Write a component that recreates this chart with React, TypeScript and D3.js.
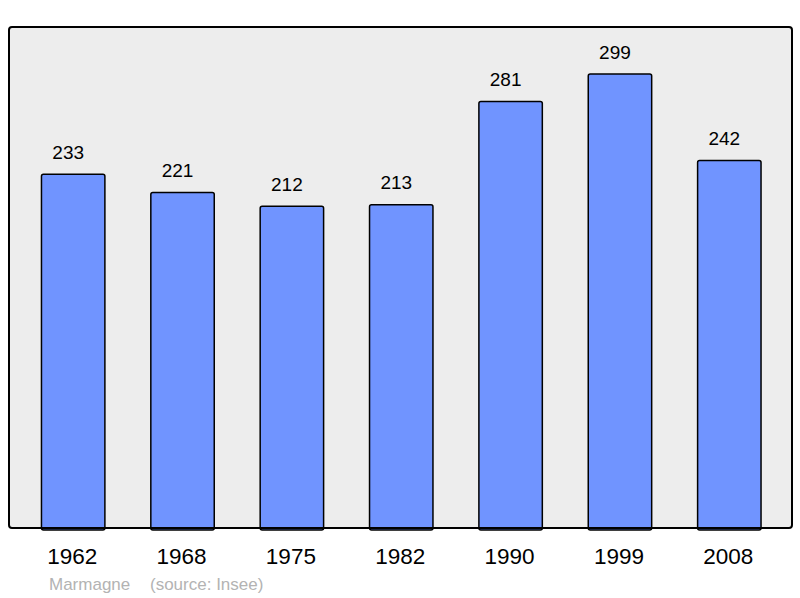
import React, { useEffect, useRef } from 'react';
import * as d3 from 'd3';

const years = ['1962', '1968', '1975', '1982', '1990', '1999', '2008'];
const population = [233, 221, 212, 213, 281, 299, 242];
const townName = 'Marmagne';
const sourceText = '(source: Insee)';

const W = 800;
const H = 598;

const App = () => {
  const svgRef = useRef<SVGSVGElement>(null);

  useEffect(() => {
    const svg = d3.select(svgRef.current);
    svg.selectAll('*').remove();

    // Plot frame
    const frame = { left: 9, top: 27, right: 792, bottom: 528 };

    const x = d3.scaleBand()
      .domain(years)
      .range([18.5, 784])
      .paddingInner(0.42)
      .paddingOuter(0.21);

    const y = d3.scaleLinear()
      .domain([0, 330])
      .range([frame.bottom, frame.top]);

    svg.append('rect')
      .attr('x', frame.left)
      .attr('y', frame.top)
      .attr('width', frame.right - frame.left)
      .attr('height', frame.bottom - frame.top)
      .attr('rx', 3)
      .attr('fill', '#ededed');

    const data = years.map((yr, i) => ({ yr, v: population[i] }));

    // Bars
    svg.selectAll('rect.bar')
      .data(data)
      .join('rect')
      .attr('class', 'bar')
      .attr('x', d => x(d.yr)!)
      .attr('y', d => y(d.v))
      .attr('width', x.bandwidth())
      .attr('height', d => frame.bottom - y(d.v) + 2)
      .attr('rx', 2)
      .attr('fill', '#7094ff')
      .attr('stroke', '#000')
      .attr('stroke-width', 1.5);

    // frame border on top so bar bottoms sit under it
    svg.append('rect')
      .attr('x', frame.left)
      .attr('y', frame.top)
      .attr('width', frame.right - frame.left)
      .attr('height', frame.bottom - frame.top)
      .attr('rx', 3)
      .attr('fill', 'none')
      .attr('stroke', '#000')
      .attr('stroke-width', 2);

    const font = '"Liberation Sans", Arial, sans-serif';

    // Value labels (sit a little left of the bar centre)
    svg.selectAll('text.value')
      .data(data)
      .join('text')
      .attr('class', 'value')
      .attr('x', d => x(d.yr)! + x.bandwidth() / 2 - 5)
      .attr('y', d => y(d.v) - 15.5)
      .attr('text-anchor', 'middle')
      .style('font-family', font)
      .style('font-size', '19px')
      .attr('fill', '#000')
      .text(d => d.v);

    // Year labels
    svg.selectAll('text.year')
      .data(data)
      .join('text')
      .attr('class', 'year')
      .attr('x', d => x(d.yr)! + x.bandwidth() / 2 - 1)
      .attr('y', 564)
      .attr('text-anchor', 'middle')
      .style('font-family', font)
      .style('font-size', '22.5px')
      .attr('fill', '#000')
      .text(d => d.yr);

    // Footer
    svg.append('text')
      .attr('x', 49)
      .attr('y', 590)
      .style('font-family', font)
      .style('font-size', '17px')
      .attr('fill', '#b3b3b3')
      .text(townName);

    svg.append('text')
      .attr('x', 150)
      .attr('y', 590)
      .style('font-family', font)
      .style('font-size', '17px')
      .attr('fill', '#b3b3b3')
      .text(sourceText);
  }, []);

  return (
    <svg
      ref={svgRef}
      width={W}
      height={H}
      style={{ position: 'absolute', left: 0, top: 0, background: '#fff' }}
    />
  );
};

export default App;
